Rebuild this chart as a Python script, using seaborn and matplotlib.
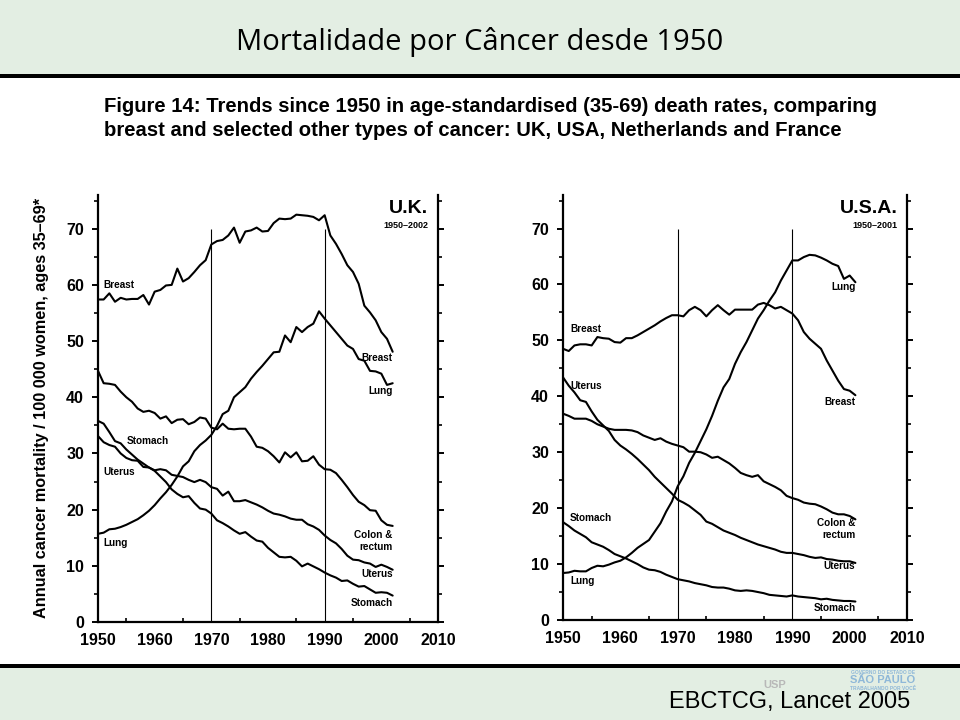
import numpy as np
import pandas as pd
import matplotlib
matplotlib.use("Agg")
import matplotlib.pyplot as plt
import seaborn as sns
from matplotlib.patches import Rectangle
from matplotlib.ticker import MultipleLocator

# ---------------------------------------------------------------------------
# data (deaths / 100 000 women aged 35-69)
# ---------------------------------------------------------------------------
uk_years = list(range(1950, 2003))
usa_years = list(range(1950, 2002))

uk_breast = [57.4, 57.4, 58.5, 57.0, 57.7, 57.4, 57.5, 57.5, 58.2, 56.5,
             58.8, 59.1, 59.9, 60.0, 62.9, 60.6, 61.2, 62.3, 63.5, 64.4,
             67.2, 67.8, 68.0, 68.8, 70.2, 67.5, 69.5, 69.7, 70.2, 69.5,
             69.6, 71.0, 71.8, 71.7, 71.8, 72.5, 72.4, 72.3, 72.1, 71.5,
             72.4, 68.8, 67.3, 65.5, 63.5, 62.3, 60.2, 56.3, 55.1, 53.7,
             51.6, 50.4, 48.1]
uk_lung = [15.7, 15.9, 16.5, 16.6, 16.9, 17.3, 17.8, 18.3, 19.0, 19.8,
           20.8, 22.0, 23.1, 24.4, 25.9, 27.7, 28.6, 30.4, 31.5, 32.3,
           33.3, 34.9, 37.0, 37.6, 40.0, 40.9, 41.8, 43.3, 44.5, 45.6,
           46.8, 48.0, 48.1, 51.0, 49.8, 52.5, 51.6, 52.5, 53.1, 55.3,
           54.0, 52.8, 51.6, 50.4, 49.2, 48.6, 46.8, 46.5, 44.7, 44.6,
           44.2, 42.2, 42.5]
uk_colon = [44.7, 42.5, 42.4, 42.2, 41.0, 40.0, 39.2, 38.0, 37.4, 37.6,
            37.2, 36.2, 36.6, 35.4, 36.0, 36.1, 35.2, 35.6, 36.4, 36.2,
            34.6, 34.3, 35.3, 34.4, 34.3, 34.4, 34.4, 33.0, 31.2, 31.0,
            30.4, 29.5, 28.4, 30.2, 29.3, 30.2, 28.6, 28.7, 29.5, 28.0,
            27.2, 27.1, 26.5, 25.3, 24.0, 22.6, 21.4, 20.8, 19.9, 19.8,
            18.1, 17.3, 17.1]
uk_stomach = [35.8, 35.3, 33.8, 32.2, 31.8, 30.7, 29.8, 28.9, 28.2, 27.5,
              26.9, 25.9, 24.9, 23.6, 22.8, 22.2, 22.4, 21.2, 20.2, 20.0,
              19.3, 18.1, 17.6, 17.0, 16.3, 15.7, 16.0, 15.2, 14.5, 14.3,
              13.2, 12.4, 11.6, 11.5, 11.6, 10.9, 9.9, 10.4, 9.9, 9.4,
              8.8, 8.3, 7.9, 7.3, 7.4, 6.8, 6.3, 6.4, 5.8, 5.2,
              5.3, 5.2, 4.7]
uk_uterus = [33.1, 32.0, 31.5, 31.2, 30.0, 29.2, 28.8, 28.7, 27.6, 27.5,
             27.0, 27.2, 27.0, 26.2, 26.0, 25.8, 25.3, 24.9, 25.3, 24.9,
             24.0, 23.7, 22.5, 23.2, 21.5, 21.5, 21.7, 21.3, 20.9, 20.4,
             19.8, 19.3, 19.1, 18.8, 18.4, 18.2, 18.2, 17.4, 17.0, 16.4,
             15.4, 14.6, 14.0, 13.0, 11.8, 11.1, 11.0, 10.6, 10.4, 9.8,
             10.2, 9.8, 9.3]

usa_breast = [48.5, 48.1, 49.1, 49.3, 49.3, 49.1, 50.6, 50.4, 50.3, 49.7,
              49.6, 50.4, 50.4, 50.9, 51.5, 52.1, 52.7, 53.4, 54.0, 54.5,
              54.5, 54.3, 55.4, 56.0, 55.4, 54.3, 55.4, 56.3, 55.4, 54.6,
              55.5, 55.5, 55.5, 55.5, 56.4, 56.7, 56.3, 55.7, 56.0, 55.4,
              54.8, 53.6, 51.5, 50.3, 49.4, 48.5, 46.4, 44.6, 42.8, 41.3,
              41.0, 40.2]
usa_lung = [8.4, 8.5, 8.8, 8.7, 8.7, 9.3, 9.7, 9.6, 9.9, 10.3,
            10.6, 11.2, 12.0, 12.9, 13.6, 14.3, 15.8, 17.3, 19.4, 21.2,
            23.9, 25.7, 28.1, 29.9, 32.0, 34.1, 36.5, 39.2, 41.6, 43.1,
            45.8, 47.9, 49.7, 51.8, 53.9, 55.4, 57.1, 58.6, 60.7, 62.5,
            64.3, 64.3, 64.9, 65.3, 65.2, 64.8, 64.3, 63.7, 63.3, 61.0,
            61.6, 60.4]
usa_colon = [36.9, 36.5, 36.0, 36.0, 36.0, 35.6, 35.0, 34.6, 34.2, 34.0,
             34.0, 34.0, 33.9, 33.6, 33.0, 32.6, 32.2, 32.5, 31.9, 31.5,
             31.2, 30.9, 30.1, 30.1, 30.0, 29.6, 29.0, 29.2, 28.6, 28.0,
             27.2, 26.3, 25.9, 25.6, 25.9, 24.8, 24.3, 23.8, 23.2, 22.2,
             21.8, 21.5, 21.0, 20.8, 20.7, 20.3, 19.8, 19.2, 18.9, 18.9,
             18.6, 18.0]
usa_uterus = [43.4, 41.9, 40.7, 39.3, 39.0, 37.3, 35.8, 34.8, 33.8, 32.2,
              31.2, 30.5, 29.7, 28.8, 27.8, 26.8, 25.6, 24.6, 23.6, 22.6,
              21.5, 21.0, 20.4, 19.6, 18.8, 17.6, 17.2, 16.6, 16.0, 15.6,
              15.2, 14.7, 14.3, 13.9, 13.5, 13.2, 12.9, 12.6, 12.2, 12.0,
              12.0, 11.8, 11.6, 11.3, 11.1, 11.2, 10.9, 10.8, 10.6, 10.5,
              10.5, 10.2]
usa_stomach = [17.5, 16.8, 16.0, 15.4, 14.8, 13.9, 13.5, 13.1, 12.5, 11.8,
               11.4, 11.0, 10.5, 10.0, 9.4, 9.0, 8.9, 8.6, 8.1, 7.7,
               7.3, 7.1, 6.9, 6.6, 6.4, 6.2, 5.9, 5.8, 5.8, 5.6,
               5.3, 5.2, 5.3, 5.2, 5.0, 4.8, 4.5, 4.4, 4.3, 4.2,
               4.4, 4.2, 4.1, 4.0, 3.9, 3.7, 3.8, 3.6, 3.5, 3.4,
               3.4, 3.3]

# curve labels: (text, year, value, alignment)
uk_labels = [("Breast", 1951, 60.0, "left"), ("Breast", 2002, 47.0, "right"),
             ("Lung", 2002, 41.1, "right"), ("Stomach", 1955, 32.2, "left"),
             ("Uterus", 1951, 26.7, "left"), ("Lung", 1951, 14.0, "left"),
             ("Colon &\nrectum", 2002, 14.5, "right"),
             ("Uterus", 2002, 8.5, "right"), ("Stomach", 2002, 3.4, "right")]
usa_labels = [("Breast", 1951.2, 52.1, "left"), ("Uterus", 1951.2, 41.9, "left"),
              ("Lung", 2001, 59.5, "right"), ("Breast", 2001, 39.0, "right"),
              ("Stomach", 1951.2, 18.2, "left"), ("Lung", 1951.2, 7.0, "left"),
              ("Colon &\nrectum", 2001, 16.3, "right"),
              ("Uterus", 2001, 9.6, "right"), ("Stomach", 2001, 2.2, "right")]

x_ticks = [1950, 1960, 1970, 1980, 1990, 2000, 2010]
y_ticks = [0, 10, 20, 30, 40, 50, 60, 70]


def long_frame(years, series):
    rows = []
    for site, vals in series.items():
        rows.append(pd.DataFrame({"year": years, "rate": vals, "site": site}))
    return pd.concat(rows, ignore_index=True)


uk_df = long_frame(uk_years, {"Breast": uk_breast, "Lung": uk_lung,
                              "Colon": uk_colon, "Stomach": uk_stomach,
                              "Uterus": uk_uterus})
usa_df = long_frame(usa_years, {"Breast": usa_breast, "Lung": usa_lung,
                                "Colon": usa_colon, "Stomach": usa_stomach,
                                "Uterus": usa_uterus})

# ---------------------------------------------------------------------------
# figure
# ---------------------------------------------------------------------------
sns.set_theme(style="white")
plt.rcParams["font.family"] = ["Liberation Sans", "DejaVu Sans"]
plt.rcParams["text.color"] = "black"
plt.rcParams["xtick.color"] = "black"
plt.rcParams["ytick.color"] = "black"

fig = plt.figure(figsize=(9.6, 7.2), dpi=100)
fig.patch.set_facecolor("white")

band = "#e3eee3"
fig.patches.append(Rectangle((0, 1 - 74 / 720), 1, 74 / 720, transform=fig.transFigure,
                             facecolor=band, edgecolor="none", zorder=0))
fig.patches.append(Rectangle((0, 1 - 78 / 720), 1, 4 / 720, transform=fig.transFigure,
                             facecolor="black", edgecolor="none", zorder=1))
fig.patches.append(Rectangle((0, 0), 1, 52 / 720, transform=fig.transFigure,
                             facecolor=band, edgecolor="none", zorder=0))
fig.patches.append(Rectangle((0, 52 / 720), 1, 4 / 720, transform=fig.transFigure,
                             facecolor="black", edgecolor="none", zorder=1))

fig.text(0.5, 1 - 42 / 720, "Mortalidade por Câncer desde 1950", ha="center",
         va="center", fontsize=21, color="black", family=["Open Sans", "DejaVu Sans"])
fig.text(104 / 960, 1 - 107 / 720,
         "Figure 14: Trends since 1950 in age-standardised (35-69) death rates, comparing",
         ha="left", va="center", fontsize=14.6, fontweight="bold")
fig.text(104 / 960, 1 - 131 / 720,
         "breast and selected other types of cancer: UK, USA, Netherlands and France",
         ha="left", va="center", fontsize=14.6, fontweight="bold")
fig.text(42 / 960, 1 - 408 / 720,
         "Annual cancer mortality / 100 000 women, ages 35\u201369*",
         rotation=90, ha="center", va="center", fontsize=11.7, fontweight="bold")

fig.text(910 / 960, 1 - 702 / 720, "EBCTCG, Lancet 2005", ha="right", va="center",
         fontsize=17)
fig.text(883 / 960, 1 - 672 / 720, "GOVERNO DO ESTADO DE", ha="center", va="center",
         fontsize=3.5, color="#8fb8d8", fontweight="bold")
fig.text(883 / 960, 1 - 680 / 720, "SÃO PAULO", ha="center", va="center",
         fontsize=8, color="#8fb8d8", fontweight="bold")
fig.text(883 / 960, 1 - 688 / 720, "TRABALHANDO POR VOCÊ", ha="center", va="center",
         fontsize=3.5, color="#8fb8d8", fontweight="bold")
fig.text(775 / 960, 1 - 685 / 720, "USP", ha="center", va="center",
         fontsize=8, color="#b8b8b8", fontweight="bold")

panels = [
    (uk_df, uk_labels, "U.K.", "1950\u20132002", [98 / 960, 98 / 720, 340 / 960, 427 / 720]),
    (usa_df, usa_labels, "U.S.A.", "1950\u20132001", [563 / 960, 100 / 720, 344 / 960, 425 / 720]),
]

for df, labels, name, span, pos in panels:
    ax = fig.add_axes(pos)
    ax.set_facecolor("none")
    sns.lineplot(data=df, x="year", y="rate", units="site", estimator=None,
                 color="black", linewidth=1.5, ax=ax, legend=False)
    ax.vlines([1970, 1990], 0, 70, color="black", linewidth=0.8)

    ax.set_xlim(1950, 2010)
    ax.set_ylim(0, 76)
    ax.set_xticks(x_ticks)
    ax.set_yticks(y_ticks)
    ax.xaxis.set_minor_locator(MultipleLocator(5))
    ax.yaxis.set_minor_locator(MultipleLocator(5))
    ax.set_xlabel("")
    ax.set_ylabel("")

    for side in ["left", "right", "bottom"]:
        ax.spines[side].set_visible(True)
        ax.spines[side].set_color("black")
        ax.spines[side].set_linewidth(1.6)
    ax.spines["top"].set_visible(False)

    ax.yaxis.set_ticks_position("both")
    ax.tick_params(axis="y", which="major", direction="out", length=4, width=1.4,
                   labelsize=11.5, pad=6, labelright=False)
    ax.tick_params(axis="y", which="minor", direction="out", length=3, width=1.2,
                   right=True, left=True)
    ax.tick_params(axis="x", which="major", direction="out", length=3, width=1.4,
                   labelsize=11.5, pad=5)
    ax.tick_params(axis="x", which="minor", direction="in", length=3, width=1.2,
                   bottom=True)
    for lab in ax.get_xticklabels() + ax.get_yticklabels():
        lab.set_fontweight("bold")

    ax.text(2008.3, 73.6, name, ha="right", va="center", fontsize=14, fontweight="bold")
    ax.text(2008.3, 70.6, span, ha="right", va="center", fontsize=6.5, fontweight="bold")

    for text, yr, val, align in labels:
        ax.text(yr, val, text, ha=align, va="center", fontsize=7.2, fontweight="bold",
                linespacing=1.25, multialignment="right" if align == "right" else "left")

fig.savefig("out.png", dpi=100)
